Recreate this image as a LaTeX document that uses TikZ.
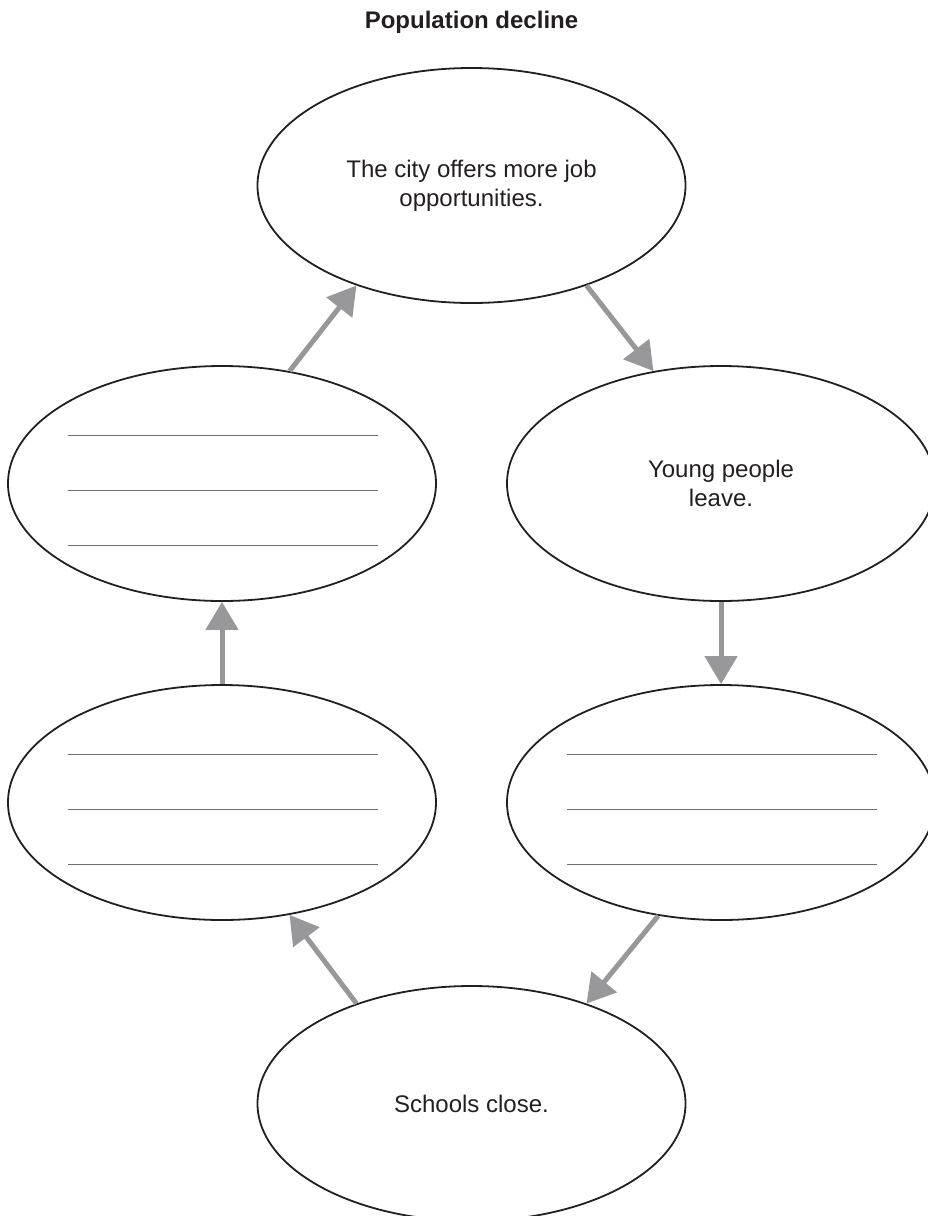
\documentclass[tikz,border=0pt]{standalone}
\usepackage{fontspec}
\setmainfont{Liberation Sans}
\usepackage{tikz}
\usetikzlibrary{shapes.geometric,arrows.meta}

\definecolor{inkblack}{RGB}{35,31,32}
\definecolor{arrowgray}{RGB}{152,152,155}
\definecolor{rulegray}{RGB}{110,110,113}

\begin{document}
\begin{tikzpicture}[x=1pt,y=-1pt,
  bubble/.style={ellipse,draw=inkblack,line width=1.8pt,minimum width=428pt,
    minimum height=235pt,inner sep=0pt,align=center,text=inkblack,
    font=\fontsize{24}{29}\selectfont},
  flow/.style={draw=arrowgray,line width=5pt,-{Triangle[width=32pt,length=28pt]}},
  writeline/.style={draw=rulegray,line width=1pt}]
\useasboundingbox (0,0) rectangle (928,1216);
\clip (0,0) rectangle (928,1216);

\node [anchor=base,text=inkblack,font=\fontsize{24}{29}\selectfont\bfseries] (title) at (471.5,28) {Population decline};

\node [bubble] (city) at (471.5,185.5) {The city offers more job\\opportunities.};
\node [bubble] (young) at (721,483.5) {Young people\\leave.};
\node [bubble] (blankr) at (721,802.5) {};
\node [bubble] (schools) at (471.5,1103.5) {Schools close.};
\node [bubble] (blankl) at (222,802.5) {};
\node [bubble] (blanku) at (222,483.5) {};

% lines to write on
\foreach \n in {blanku,blankl,blankr}
  \foreach \dy in {-48.5,6.5,61.5}
    \draw[writeline] ([shift={(-154,\dy)}]\n.center) -- ++(310,0);

% the cycle
\draw[flow] (city.-41) -- (young.121);
\draw[flow] (young.south) -- (blankr.north);
\draw[flow] (blankr.-119) -- (schools.41);
\draw[flow] (schools.139) -- (blankl.-59);
\draw[flow] (blankl.north) -- (blanku.south);
\draw[flow] (blanku.59) -- (city.-139);
\end{tikzpicture}
\end{document}
